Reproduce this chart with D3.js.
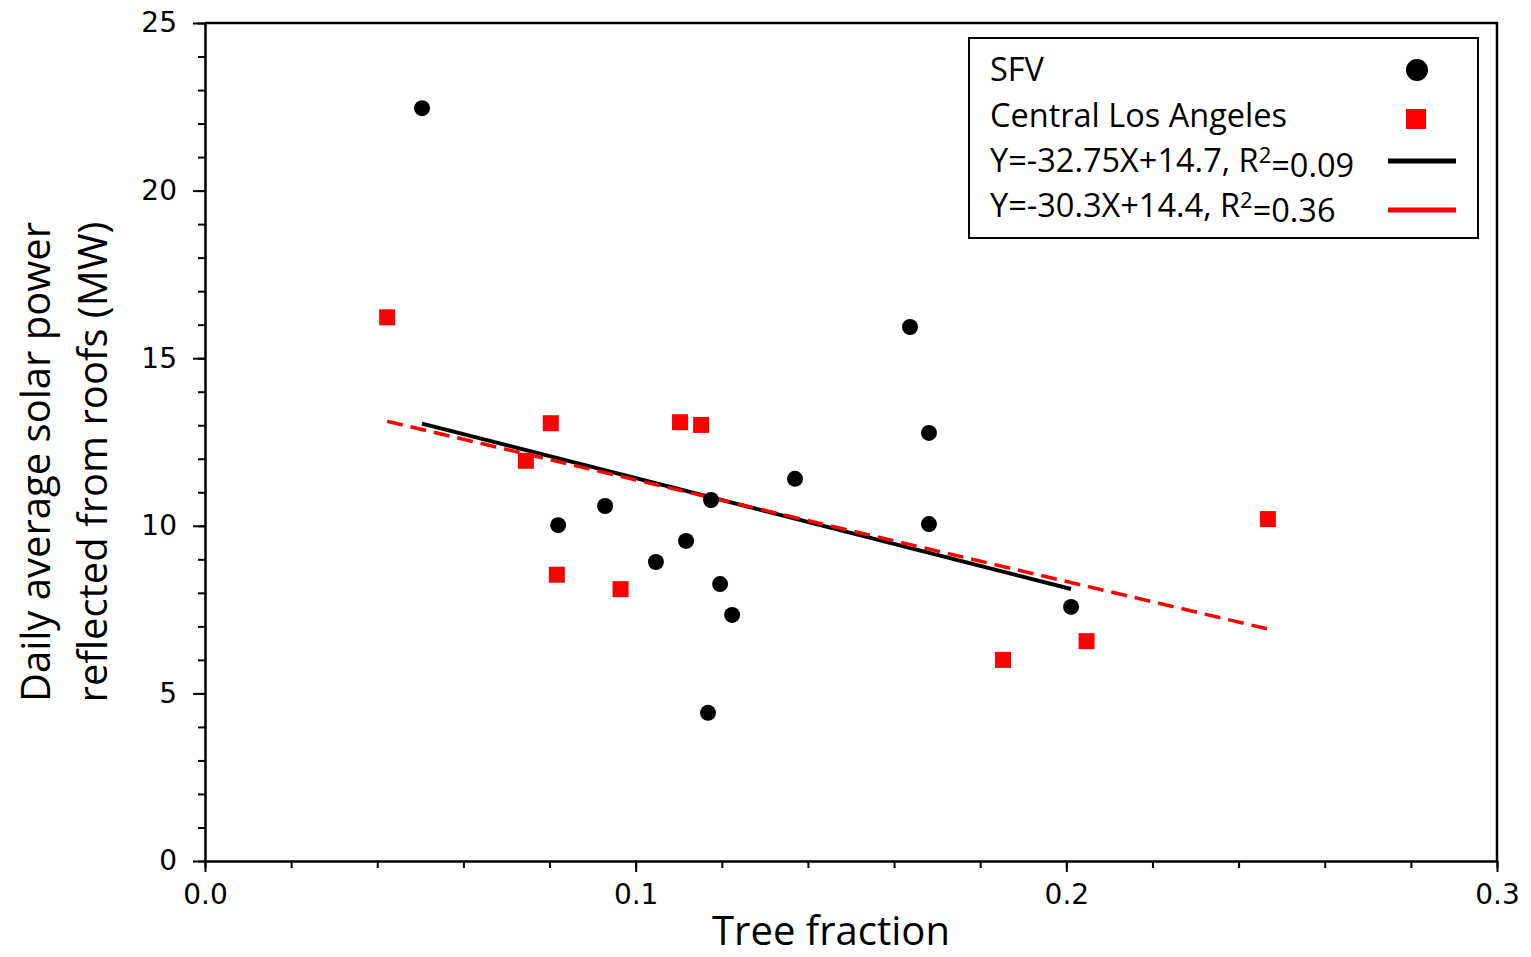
<!DOCTYPE html>
<html lang="en">
<head>
<meta charset="UTF-8">
<title>Tree fraction vs reflected solar power</title>
<style>
  body { margin: 0; background: #fff; }
  svg { display: block; }
  .tick text { font-family: "DejaVu Sans", sans-serif; font-size: 28px; fill: #000; }
  .axis path { stroke: #000; stroke-width: 2.5px; }
  .axis line { stroke: #000; stroke-width: 2px; }
  .title { font-family: "Open Sans", sans-serif; fill: #000; }
  .legend text { font-family: "Open Sans", sans-serif; font-size: 32.5px; fill: #000; }
</style>
</head>
<body>
<script src="https://d3js.org/d3.v7.min.js"></script>
<script>
// SFV (black circles)
var sfvX = [0.0504, 0.0820, 0.0929, 0.1047, 0.1117, 0.1175, 0.1196, 0.1224, 0.1168, 0.1370, 0.1637, 0.1681, 0.1681, 0.2011];
var sfvY = [22.46, 10.02, 10.59, 8.92, 9.55, 10.77, 8.26, 7.34, 4.42, 11.40, 15.93, 12.77, 10.05, 7.58];
// Central Los Angeles (red squares)
var claX = [0.0423, 0.0803, 0.0745, 0.0817, 0.0965, 0.1103, 0.1152, 0.1853, 0.2047, 0.2468];
var claY = [16.22, 13.06, 11.94, 8.54, 8.11, 13.09, 13.01, 6.00, 6.56, 10.20];
// regression fits
var fitSfv = { slope: -32.75, intercept: 14.7 };
var fitCla = { slope: -30.3, intercept: 14.4 };
var legendLabels = ["SFV", "Central Los Angeles", "Y=-32.75X+14.7, R", "Y=-30.3X+14.4, R"];
var legendR2 = ["", "", "=0.09", "=0.36"];
var xTicks = [0, 0.1, 0.2, 0.3];
var yTicks = [0, 5, 10, 15, 20, 25];

var W = 1531, H = 957;
var m = { left: 205, right: 1497, top: 23, bottom: 861 };

var svg = d3.select("body").append("svg").attr("width", W).attr("height", H);

var x = d3.scaleLinear().domain([0, 0.3]).range([m.left, m.right]);
var y = d3.scaleLinear().domain([0, 25]).range([m.bottom, m.top]);

// minor ticks
svg.append("g").attr("class", "axis")
  .attr("transform", "translate(0," + m.bottom + ")")
  .call(d3.axisBottom(x).tickValues(d3.range(0, 0.3001, 0.02)).tickSize(7).tickFormat(""))
  .call(function(g) { g.select(".domain").remove(); });
svg.append("g").attr("class", "axis")
  .attr("transform", "translate(" + m.left + ",0)")
  .call(d3.axisLeft(y).tickValues(d3.range(0, 25.01, 1)).tickSize(7).tickFormat(""))
  .call(function(g) { g.select(".domain").remove(); });

// major ticks
svg.append("g").attr("class", "axis")
  .attr("transform", "translate(0," + m.bottom + ")")
  .call(d3.axisBottom(x).tickValues(xTicks).tickSize(11).tickSizeOuter(0).tickPadding(12).tickFormat(d3.format(".1f")));
svg.append("g").attr("class", "axis")
  .attr("transform", "translate(" + m.left + ",0)")
  .call(d3.axisLeft(y).tickValues(yTicks).tickSize(12).tickSizeOuter(0).tickPadding(16).tickFormat(d3.format("d")));

// frame top/right
svg.append("path")
  .attr("d", "M" + m.left + "," + m.top + "H" + m.right + "V" + m.bottom)
  .attr("fill", "none").attr("stroke", "#000").attr("stroke-width", 2.5);

// fit lines over each series' x range
function fitLine(fit, xs) {
  var e = d3.extent(xs);
  return e.map(function(v) { return [x(v), y(fit.slope * v + fit.intercept)]; });
}
svg.append("path")
  .attr("d", d3.line()(fitLine(fitSfv, sfvX)))
  .attr("stroke", "#000").attr("stroke-width", 4).attr("fill", "none");
svg.append("path")
  .attr("d", d3.line()(fitLine(fitCla, claX)))
  .attr("stroke", "#ff0000").attr("stroke-width", 3.5).attr("fill", "none")
  .attr("stroke-dasharray", "16,8");

// points
svg.append("g").selectAll("circle")
  .data(sfvX.map(function(v, i) { return [v, sfvY[i]]; }))
  .enter().append("circle")
  .attr("cx", function(d) { return x(d[0]); })
  .attr("cy", function(d) { return y(d[1]); })
  .attr("r", 8).attr("fill", "#000");

var sq = 16;
svg.append("g").selectAll("rect")
  .data(claX.map(function(v, i) { return [v, claY[i]]; }))
  .enter().append("rect")
  .attr("x", function(d) { return x(d[0]) - sq / 2; })
  .attr("y", function(d) { return y(d[1]) - sq / 2; })
  .attr("width", sq).attr("height", sq).attr("fill", "#ff0000");

// axis titles
svg.append("text").attr("class", "title")
  .attr("x", 831).attr("y", 945)
  .attr("text-anchor", "middle").attr("font-size", 40)
  .text("Tree fraction");
var yt = svg.append("text").attr("class", "title")
  .attr("transform", "translate(50,462) rotate(-90)")
  .attr("text-anchor", "middle").attr("font-size", 40);
yt.append("tspan").attr("x", 0).attr("dy", 0).text("Daily average solar power");
yt.append("tspan").attr("x", 0).attr("dy", 57).text("reflected from roofs (MW)");

// legend
var lg = svg.append("g").attr("class", "legend");
lg.append("rect").attr("x", 969).attr("y", 38).attr("width", 509).attr("height", 200)
  .attr("fill", "#fff").attr("stroke", "#000").attr("stroke-width", 2);
var rowY = [70, 116, 161, 206];
legendLabels.forEach(function(t, i) {
  var tx = lg.append("text").attr("x", 990).attr("y", rowY[i]).attr("dy", "0.35em");
  tx.append("tspan").text(t);
  if (legendR2[i]) {
    tx.append("tspan").attr("dy", "-0.42em").attr("font-size", 22).text("2");
    tx.append("tspan").attr("dy", "0.42em").text(legendR2[i]);
  }
});
lg.append("circle").attr("cx", 1417).attr("cy", rowY[0]).attr("r", 11).attr("fill", "#000");
lg.append("rect").attr("x", 1406).attr("y", rowY[1] + 3 - 10).attr("width", 20).attr("height", 20).attr("fill", "#ff0000");
lg.append("line").attr("x1", 1388).attr("x2", 1456).attr("y1", rowY[2]).attr("y2", rowY[2])
  .attr("stroke", "#000").attr("stroke-width", 5);
lg.append("line").attr("x1", 1388).attr("x2", 1456).attr("y1", rowY[3] + 4).attr("y2", rowY[3] + 4)
  .attr("stroke", "#ff0000").attr("stroke-width", 5);
</script>
</body>
</html>
